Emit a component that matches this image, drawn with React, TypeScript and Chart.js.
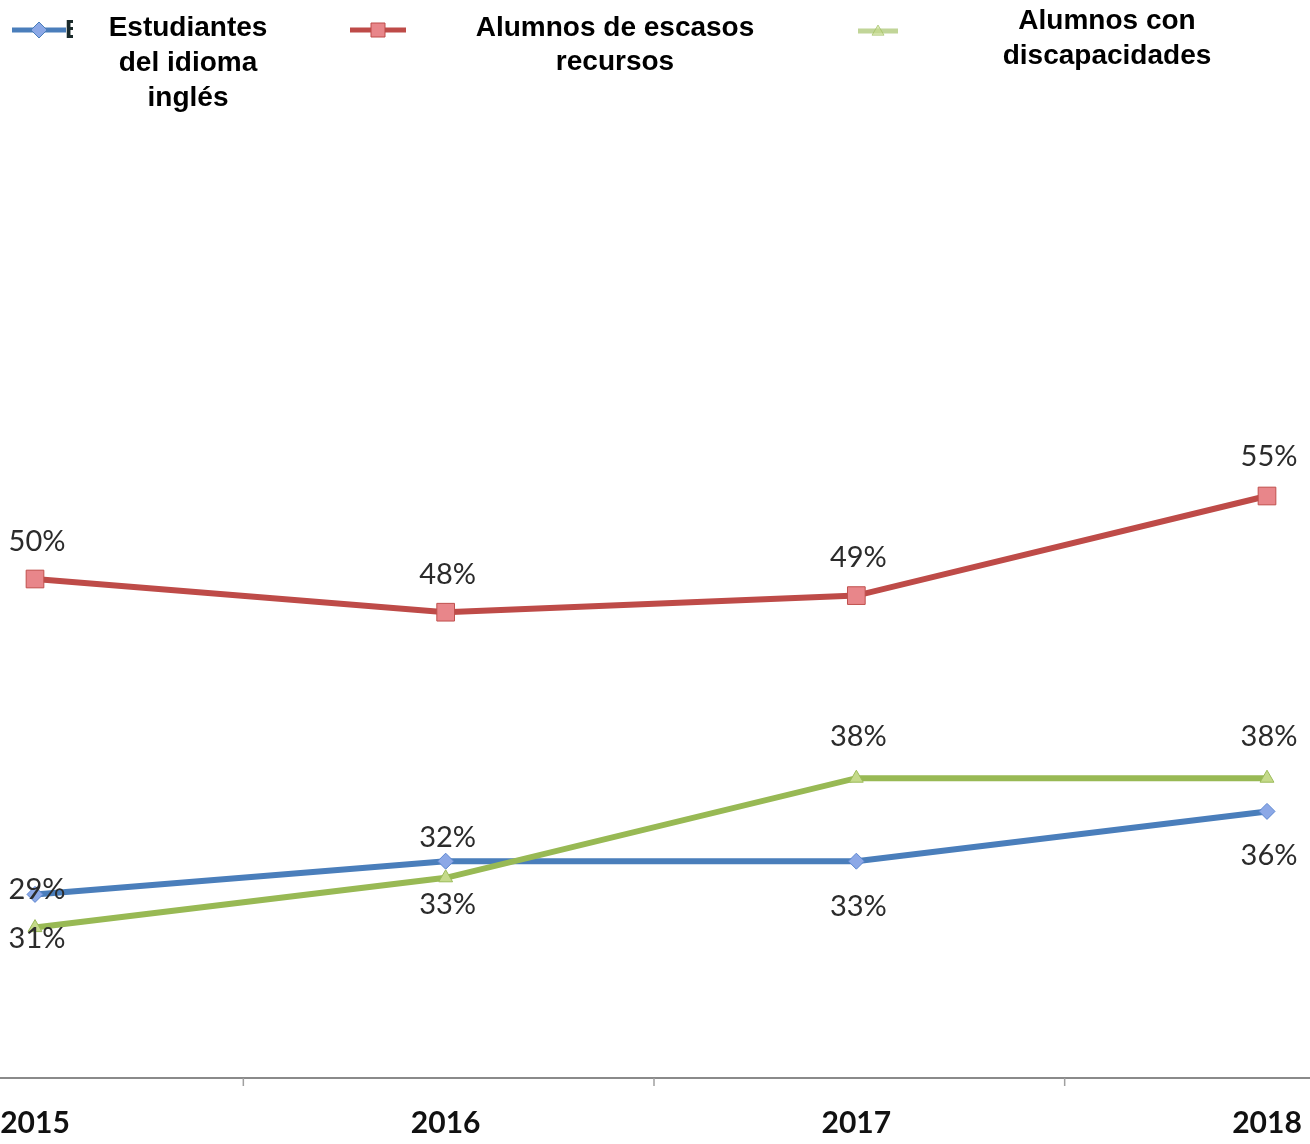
import React, { useEffect, useRef } from "react";
import { Chart, registerables } from "chart.js";

Chart.register(...registerables);

const years = ["2015", "2016", "2017", "2018"];
const englishLearners = [31, 33, 33, 36];
const lowIncome = [50, 48, 49, 55];
const disabilities = [29, 32, 38, 38];

const englishLabels = ["29%", "32%", "33%", "36%"];
const lowIncomeLabels = ["50%", "48%", "49%", "55%"];
const disabilitiesLabels = ["31%", "33%", "38%", "38%"];

const legendNames = [
  ["Estudiantes", "del idioma", "inglés"],
  ["Alumnos de escasos", "recursos"],
  ["Alumnos con", "discapacidades"],
];

// label vertical offsets (px) from each point, per series
const labelOffsets = [
  [-5, -24, 45, 44],
  [-37, -38, -38, -39],
  [11, 27, -42, -42],
];

const W = 1310;
const H = 1144;

const BLUE = "#4A7EBB";
const RED = "#BE4B48";
const GREEN = "#98B954";

const overlayPlugin = {
  id: "overlay",
  afterDraw(chart: any) {
    const ctx = chart.ctx;
    const xs = chart.scales.x;
    const bottom = chart.chartArea.bottom;
    ctx.save();
    // axis line
    ctx.strokeStyle = "#8a8a8a";
    ctx.lineWidth = 2;
    ctx.beginPath();
    ctx.moveTo(0, bottom + 1);
    ctx.lineTo(W, bottom + 1);
    ctx.stroke();
    // tick marks between categories
    ctx.strokeStyle = "#a0a0a0";
    ctx.lineWidth = 1.5;
    for (let i = 0; i < years.length - 1; i++) {
      const xm = (xs.getPixelForValue(i) + xs.getPixelForValue(i + 1)) / 2 + 3;
      ctx.beginPath();
      ctx.moveTo(xm, bottom + 1);
      ctx.lineTo(xm, bottom + 9);
      ctx.stroke();
    }

    // data labels
    const allLabels = [englishLabels, lowIncomeLabels, disabilitiesLabels];
    ctx.font = "29px Lato";
    ctx.fillStyle = "#2b2b2b";
    ctx.textAlign = "center";
    ctx.textBaseline = "middle";
    chart.data.datasets.forEach((ds: any, di: number) => {
      const meta = chart.getDatasetMeta(di);
      meta.data.forEach((pt: any, i: number) => {
        ctx.fillText(allLabels[di][i], pt.x + 2, pt.y + labelOffsets[di][i]);
      });
    });

    // legend
    const drawSample = (x1: number, x2: number, y: number, color: string, fill: string, style: string, r: number, alpha: number) => {
      ctx.save();
      ctx.globalAlpha = alpha;
      ctx.strokeStyle = color;
      ctx.lineWidth = 5;
      ctx.beginPath();
      ctx.moveTo(x1, y);
      ctx.lineTo(x2, y);
      ctx.stroke();
      const cx = (x1 + x2) / 2;
      ctx.fillStyle = fill;
      ctx.strokeStyle = color;
      ctx.lineWidth = 1;
      ctx.beginPath();
      if (style === "diamond") {
        ctx.moveTo(cx, y - r);
        ctx.lineTo(cx + r, y);
        ctx.lineTo(cx, y + r);
        ctx.lineTo(cx - r, y);
      } else if (style === "square") {
        ctx.rect(cx - r, y - r, 2 * r, 2 * r);
      } else {
        ctx.moveTo(cx, y - r);
        ctx.lineTo(cx + r, y + r * 0.7);
        ctx.lineTo(cx - r, y + r * 0.7);
      }
      ctx.closePath();
      ctx.fill();
      ctx.stroke();
      ctx.restore();
    };
    drawSample(12, 66, 30, BLUE, "#8CA8E6", "diamond", 8, 1);
    drawSample(350, 406, 30, RED, "#E8868A", "square", 7, 1);
    drawSample(858, 898, 31, GREEN, "#C5DA8A", "triangle", 6, 0.6);

    // clipped fragment of the first letter
    ctx.save();
    ctx.beginPath();
    ctx.rect(66, 15, 7, 30);
    ctx.clip();
    ctx.fillStyle = "#1a2a2a";
    ctx.font = "bold 26px 'Liberation Sans', Arial";
    ctx.textAlign = "left";
    ctx.textBaseline = "middle";
    ctx.fillText("E", 65, 31);
    ctx.restore();

    ctx.fillStyle = "#000";
    ctx.font = "bold 28px 'Liberation Sans', Arial";
    ctx.textAlign = "center";
    ctx.textBaseline = "middle";
    const legendPos = [
      [188, 28, 35],
      [615, 28, 34],
      [1107, 21, 35],
    ];
    legendNames.forEach((lines, li) => {
      const [cx, y0, lh] = legendPos[li];
      lines.forEach((t, k) => ctx.fillText(t, cx, y0 + k * lh));
    });
    ctx.restore();
  },
};

export default function App() {
  const ref = useRef<HTMLCanvasElement>(null);

  useEffect(() => {
    document.body.style.margin = "0";
    if (!ref.current) return;
    const chart = new Chart(ref.current, {
      type: "line",
      data: {
        labels: years,
        datasets: [
          {
            label: legendNames[0].join(" "),
            data: englishLearners,
            borderColor: BLUE,
            backgroundColor: "#8CA8E6",
            borderWidth: 6,
            pointStyle: "rectRot",
            pointRadius: 8,
            pointBorderColor: "#5B86D0",
            pointBorderWidth: 1,
            pointBackgroundColor: "#8CA8E6",
            tension: 0,
            order: 1,
          },
          {
            label: legendNames[1].join(" "),
            data: lowIncome,
            borderColor: RED,
            backgroundColor: "#E8868A",
            borderWidth: 6,
            pointStyle: "rect",
            pointRadius: 12.5,
            pointBorderColor: "#C0504D",
            pointBorderWidth: 1,
            pointBackgroundColor: "#E8868A",
            tension: 0,
            order: 2,
          },
          {
            label: legendNames[2].join(" "),
            data: disabilities,
            borderColor: GREEN,
            backgroundColor: "#C5DA8A",
            borderWidth: 6,
            pointStyle: "triangle",
            pointRadius: 8,
            pointBorderColor: "#9BBB59",
            pointBorderWidth: 1,
            pointBackgroundColor: "#C5DA8A",
            tension: 0,
            order: 0,
          },
        ],
      },
      options: {
        responsive: false,
        animation: false,
        clip: false as any,
        layout: { autoPadding: false, padding: { left: 35, right: 43, top: 247, bottom: 0 } },
        plugins: {
          legend: { display: false },
          tooltip: { enabled: false },
        },
        scales: {
          x: {
            type: "category",
            offset: false,
            grid: { display: false },
            border: { display: false },
            ticks: {
              color: "#111",
              font: { family: "Lato", size: 30, weight: "bold" },
              padding: 20,
              maxRotation: 0,
              autoSkip: false,
            },
            afterFit: (scale: any) => {
              scale.height = 67;
              scale.paddingLeft = 0;
              scale.paddingRight = 0;
            },
          },
          y: {
            display: false,
            min: 20,
            max: 70,
          },
        },
      },
      plugins: [overlayPlugin],
    });
    return () => chart.destroy();
  }, []);

  return (
    <div style={{ position: "relative", width: W, height: H, background: "#fff" }}>
      <canvas ref={ref} width={W} height={H} style={{ width: W, height: H, display: "block" }} />
    </div>
  );
}
